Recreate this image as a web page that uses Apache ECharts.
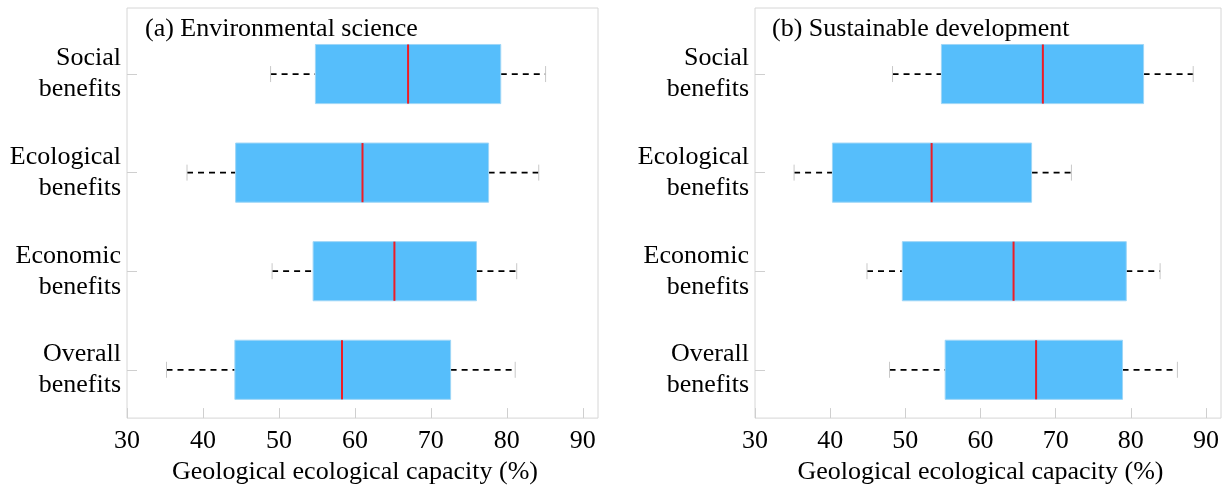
<!DOCTYPE html>
<html>
<head>
<meta charset="utf-8">
<title>Geological ecological capacity</title>
<script src="https://cdn.jsdelivr.net/npm/echarts/dist/echarts.min.js"></script>
<style>
  html, body { margin: 0; padding: 0; background: #ffffff; }
  #chart { width: 1225px; height: 490px; }
</style>
</head>
<body>
<div id="chart"></div>
<script>
// Benefit categories, listed bottom to top on the vertical axis (positions 1..4)
const categories = ['Overall\nbenefits', 'Economic\nbenefits', 'Ecological\nbenefits', 'Social\nbenefits'];
const categoryPos = [1, 2, 3, 4];
const xTicks = [30, 40, 50, 60, 70, 80, 90];

// Five-number summaries per category: [min, Q1, median, Q3, max]
const envScience = [
  [35.2, 44.2, 58.3, 72.6, 81.1],
  [49.1, 54.5, 65.2, 76.0, 81.3],
  [37.9, 44.3, 61.0, 77.6, 84.2],
  [48.9, 54.8, 67.0, 79.2, 85.1]
];
const sustainDev = [
  [47.9, 55.3, 67.4, 78.9, 86.2],
  [44.9, 49.6, 64.4, 79.4, 83.9],
  [35.2, 40.3, 53.5, 66.8, 72.1],
  [48.3, 54.8, 68.3, 81.7, 88.3]
];

const panelTitles = ['(a) Environmental science', '(b) Sustainable development'];
const xName = 'Geological ecological capacity (%)';

const FONT = '"Liberation Serif", "Times New Roman", serif';
const BOX_FILL = '#56BEFB';
const BOX_EDGE = '#9ed6f7';
const MEDIAN = '#ee1c25';
const FRAME = '#d6d6d6';
const BOX_HALF = 0.3; // half box thickness, in category units

function rows(stats) {
  return stats.map((s, i) => [categoryPos[i]].concat(s));
}

function renderBox(params, api) {
  const y = api.value(0);
  const pt = k => api.coord([api.value(k), y]);
  const lo = pt(1), q1 = pt(2), md = pt(3), q3 = pt(4), hi = pt(5);
  const h = api.size([0, BOX_HALF])[1];
  const cy = lo[1];
  const dash = { stroke: '#000', lineWidth: 1.8, lineDash: [6, 5] };
  const cap = { stroke: '#c8c8c8', lineWidth: 1 };
  return {
    type: 'group',
    children: [
      { type: 'line', shape: { x1: lo[0], y1: cy, x2: q1[0], y2: cy }, style: dash },
      { type: 'line', shape: { x1: q3[0], y1: cy, x2: hi[0], y2: cy }, style: dash },
      { type: 'line', shape: { x1: lo[0], y1: cy - 8, x2: lo[0], y2: cy + 8 }, style: cap },
      { type: 'line', shape: { x1: hi[0], y1: cy - 8, x2: hi[0], y2: cy + 8 }, style: cap },
      { type: 'rect', shape: { x: q1[0], y: cy - h, width: q3[0] - q1[0], height: 2 * h },
        style: { fill: BOX_FILL, stroke: BOX_EDGE, lineWidth: 1 } },
      { type: 'line', shape: { x1: md[0], y1: cy - h, x2: md[0], y2: cy + h },
        style: { stroke: MEDIAN, lineWidth: 2 } }
    ]
  };
}

function xAxis(gridIndex) {
  return {
    type: 'value', gridIndex: gridIndex, min: 30, max: 92,
    name: xName, nameLocation: 'middle', nameGap: 40,
    nameTextStyle: { fontFamily: FONT, fontSize: 26, color: '#000', padding: [0, 15, 0, 0] },
    axisLine: { show: false },
    axisTick: { show: true, inside: true, length: 10, customValues: xTicks,
      lineStyle: { color: '#cfcfcf', width: 1 } },
    axisLabel: { customValues: xTicks, fontFamily: FONT, fontSize: 26, color: '#000', margin: 10 },
    splitLine: { show: false }
  };
}

function yAxis(gridIndex) {
  return {
    type: 'value', gridIndex: gridIndex, min: 0.51, max: 4.67,
    axisLine: { show: false },
    axisTick: { show: true, inside: true, length: 10, customValues: categoryPos,
      lineStyle: { color: '#cfcfcf', width: 1 } },
    axisLabel: {
      customValues: categoryPos,
      formatter: v => categories[Math.round(v) - 1] || '',
      fontFamily: FONT, fontSize: 26, color: '#000', lineHeight: 31, align: 'right', margin: 6
    },
    splitLine: { show: false }
  };
}

const chart = echarts.init(document.getElementById('chart'), null, { renderer: 'canvas' });
chart.setOption({
  backgroundColor: '#ffffff',
  animation: false,
  title: [
    { text: panelTitles[0], left: 140, top: 11,
      textStyle: { fontFamily: FONT, fontSize: 26, fontWeight: 'normal', color: '#000' } },
    { text: panelTitles[1], left: 767, top: 11,
      textStyle: { fontFamily: FONT, fontSize: 26, fontWeight: 'normal', color: '#000' } }
  ],
  grid: [
    { left: 127, top: 8, width: 471, height: 418, show: true, borderColor: FRAME, borderWidth: 1, backgroundColor: 'transparent' },
    { left: 755, top: 8, width: 466, height: 418, show: true, borderColor: FRAME, borderWidth: 1, backgroundColor: 'transparent' }
  ],
  xAxis: [xAxis(0), xAxis(1)],
  yAxis: [yAxis(0), yAxis(1)],
  series: [
    { type: 'custom', xAxisIndex: 0, yAxisIndex: 0, renderItem: renderBox,
      encode: { x: [1, 2, 3, 4, 5], y: 0 }, data: rows(envScience) },
    { type: 'custom', xAxisIndex: 1, yAxisIndex: 1, renderItem: renderBox,
      encode: { x: [1, 2, 3, 4, 5], y: 0 }, data: rows(sustainDev) }
  ]
});
</script>
</body>
</html>
